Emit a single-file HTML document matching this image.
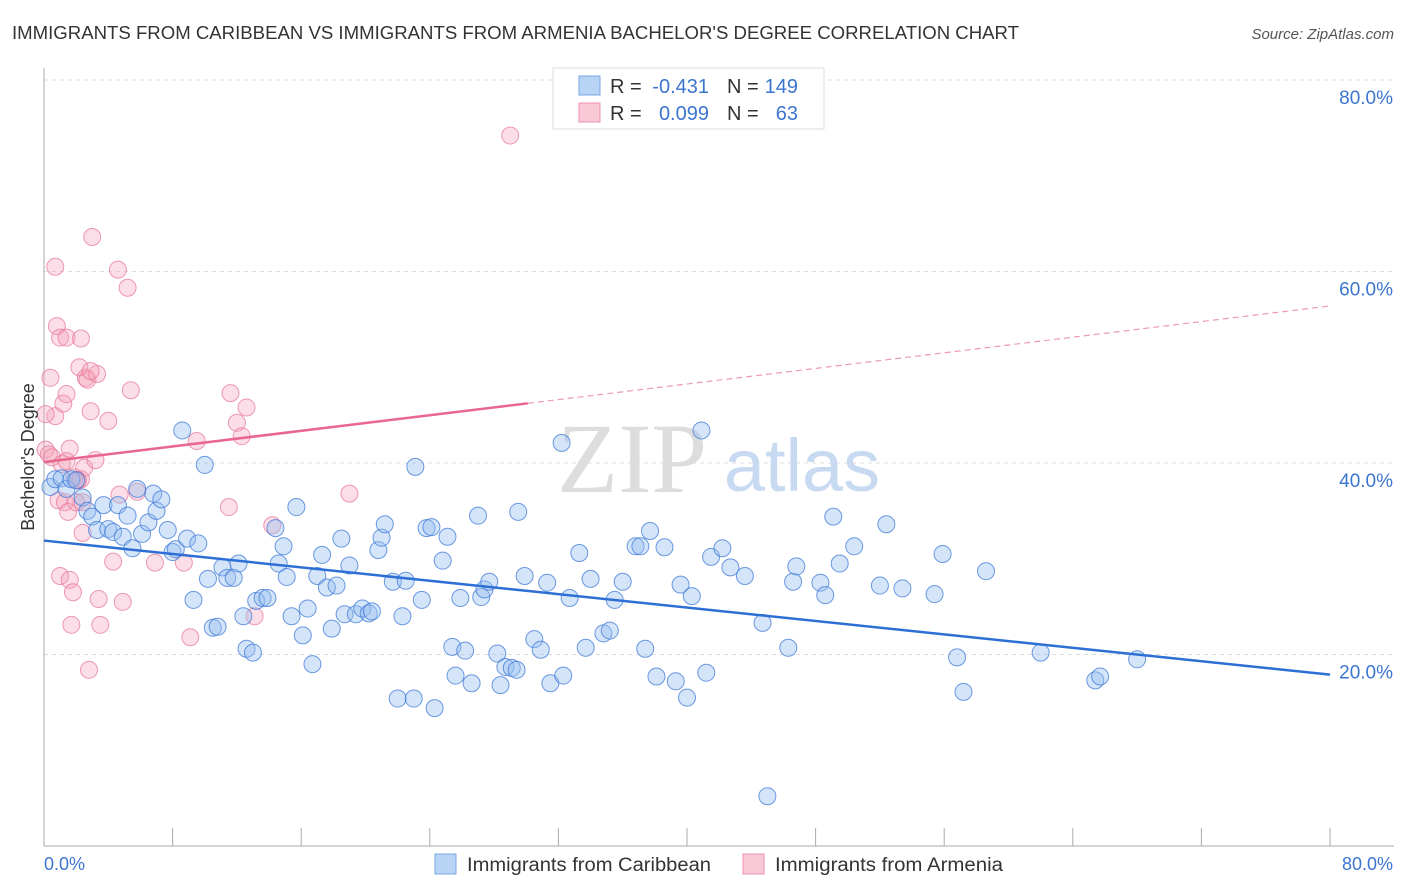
<!DOCTYPE html>
<html><head><meta charset="utf-8"><style>
body{margin:0;background:#fff;font-family:"Liberation Sans",sans-serif;}
svg{display:block}
</style></head><body>
<svg id="c" width="1406" height="892" xmlns="http://www.w3.org/2000/svg">
<text x="12" y="39" font-size="18" fill="#333" textLength="1007" lengthAdjust="spacingAndGlyphs">IMMIGRANTS FROM CARIBBEAN VS IMMIGRANTS FROM ARMENIA BACHELOR'S DEGREE CORRELATION CHART</text>
<text x="1394" y="39" font-size="15" fill="#555" font-style="italic" text-anchor="end">Source: ZipAtlas.com</text>
<g id="grid"></g>
<text x="632" y="492" font-size="100" fill="#ddd" font-family="Liberation Serif,serif" text-anchor="middle">ZIP</text>
<text x="802" y="491" font-size="74" fill="#c8daf2" text-anchor="middle">atlas</text>
<g id="pts"></g>
<g id="lines"></g>
<text transform="translate(34,457) rotate(-90)" font-size="18" fill="#333" text-anchor="middle">Bachelor's Degree</text>
<g>
<rect x="553" y="68" width="271" height="61" fill="#fff" stroke="#ddd"/>
<rect x="579" y="76" width="21" height="19" fill="#b8d3f4" stroke="#7aa7e6"/>
<rect x="579" y="103" width="21" height="19" fill="#f9c9d7" stroke="#ec90ac"/>
<text x="610" y="93" font-size="20" fill="#333">R =</text>
<text x="709" y="93" font-size="20" fill="#3c75d0" text-anchor="end">-0.431</text>
<text x="727" y="93" font-size="20" fill="#333">N =</text>
<text x="798" y="93" font-size="20" fill="#3c75d0" text-anchor="end">149</text>
<text x="610" y="120" font-size="20" fill="#333">R =</text>
<text x="709" y="120" font-size="20" fill="#3c75d0" text-anchor="end">0.099</text>
<text x="727" y="120" font-size="20" fill="#333">N =</text>
<text x="798" y="120" font-size="20" fill="#3c75d0" text-anchor="end">63</text>
</g>
<g>
<rect x="435" y="854" width="21" height="20" fill="#b8d3f4" stroke="#7aa7e6"/>
<text x="467" y="871" font-size="19" fill="#333" textLength="244" lengthAdjust="spacingAndGlyphs">Immigrants from Caribbean</text>
<rect x="743" y="854" width="21" height="20" fill="#f9c9d7" stroke="#ec90ac"/>
<text x="775" y="871" font-size="19" fill="#333" textLength="228" lengthAdjust="spacingAndGlyphs">Immigrants from Armenia</text>
</g>
</svg>
<script>
const yTicks=[20,40,60,80];
const xTickLabels=["0.0%","80.0%"];
const blueX=[0.4,0.7,1.1,1.4,1.7,2.0,2.4,2.7,3.0,3.3,3.7,4.0,4.3,4.6,4.9,5.2,5.5,5.8,6.1,6.5,6.8,7.0,7.3,7.7,8.0,8.2,8.6,8.9,9.3,9.6,10.0,10.2,10.5,10.8,11.1,11.4,11.8,12.1,12.4,12.6,13.0,13.2,13.6,13.9,14.4,14.6,14.9,15.1,15.4,15.7,16.1,16.4,16.7,17.0,17.3,17.6,17.9,18.2,18.5,18.7,19.0,19.4,19.8,20.2,20.4,20.8,21.0,21.2,21.7,22.0,22.3,22.5,23.0,23.1,23.5,23.8,24.1,24.3,24.8,25.1,25.4,25.6,25.9,26.2,26.6,27.0,27.2,27.4,27.7,28.2,28.4,28.7,29.1,29.4,29.5,29.9,30.5,30.9,31.3,31.5,32.2,32.3,32.7,33.3,33.7,34.0,34.8,35.2,35.5,36.0,36.8,37.1,37.4,37.7,38.1,38.6,39.3,39.6,40.0,40.3,40.9,41.2,41.5,42.2,42.7,43.6,44.7,45.0,46.3,46.6,46.8,48.3,48.6,49.1,49.5,50.4,52.0,52.4,53.4,55.4,55.9,56.8,57.2,58.6,62.0,65.4,65.7,68.0];
const blueY=[37.5,38.3,38.4,37.3,38.3,38.2,36.4,35.0,34.4,33.0,35.6,33.1,32.8,35.6,32.3,34.5,31.1,37.3,32.6,33.8,36.8,35.0,36.2,33.0,30.7,31.0,43.4,32.1,25.7,31.6,39.8,27.9,22.8,22.9,29.1,28.0,28.0,29.5,24.0,20.6,20.2,25.6,25.9,25.9,33.2,29.5,31.3,28.1,24.0,35.4,22.0,24.8,19.0,28.2,30.4,27.0,22.7,27.2,32.1,24.2,29.3,24.2,24.8,24.3,24.5,30.9,32.2,33.6,27.6,15.4,24.0,27.7,15.4,39.6,25.7,33.2,33.3,14.4,29.8,32.3,20.8,17.8,25.9,20.4,17.0,34.5,26.0,26.8,27.6,20.1,16.8,18.7,18.6,18.4,34.9,28.2,21.6,20.5,27.5,17.0,42.1,17.8,25.9,30.6,20.7,27.9,22.2,22.5,25.7,27.6,31.3,31.3,20.6,32.9,17.7,31.2,17.2,27.3,15.5,26.1,43.4,18.1,30.2,31.1,29.1,28.2,23.3,5.2,20.7,27.6,29.2,27.5,26.2,34.4,29.5,31.3,27.2,33.6,26.9,26.3,30.5,19.7,16.1,28.7,20.2,17.3,17.7,19.5];
const pinkX=[0.1,0.3,0.4,0.5,0.7,0.7,0.8,0.9,1.0,1.0,1.1,1.2,1.3,1.4,1.4,1.5,1.6,1.6,1.7,1.8,1.9,2.0,2.1,2.2,2.3,2.3,2.4,2.4,2.5,2.6,2.7,2.8,2.9,3.0,3.3,3.4,3.5,4.0,4.3,4.6,4.7,4.9,5.2,5.4,5.8,6.9,8.7,9.1,9.5,11.5,11.6,12.0,12.3,12.6,13.1,14.2,19.0,29.0,2.9,1.4,2.1,0.1,3.2];
const pinkY=[41.4,40.9,48.9,40.6,60.5,44.9,54.3,36.1,28.2,53.1,39.9,46.2,35.9,53.1,47.2,34.9,27.8,41.5,23.1,26.5,38.5,35.9,38.2,50.0,53.0,38.3,32.7,35.9,39.5,48.9,48.7,18.4,45.4,63.6,49.3,25.8,23.1,44.4,29.7,60.2,36.7,25.5,58.3,47.6,37.0,29.6,29.6,21.8,42.3,35.4,47.3,44.2,42.8,45.8,24.0,33.5,36.8,74.2,49.6,40.2,38.2,45.1,40.3];
const blueFit=[31.9,17.9];
const pinkFit=[40.1,56.4];
const pinkSolidEnd=30.1;
const X0=44,X1=1330,Y0=846,Y80=80;
const sx=v=>X0+(X1-X0)*v/80;
const sy=v=>Y0-(Y0-Y80)*v/80;
const NS="http://www.w3.org/2000/svg";
function mk(tag,attrs,parent){const e=document.createElementNS(NS,tag);for(const k in attrs)e.setAttribute(k,attrs[k]);parent.appendChild(e);return e;}
const grid=document.getElementById('grid');
yTicks.forEach(t=>{
 const l=mk('line',{x1:X0,x2:1394,y1:sy(t),y2:sy(t),stroke:'#ddd','stroke-dasharray':'4,4'},grid);
 
 
 const tx=mk('text',{x:1393,y:sy(t)+24,'font-size':19,fill:'#3c75d0','text-anchor':'end'},grid);
 tx.textContent=t.toFixed(1)+'%';
 
 
});
const ax=mk('line',{x1:X0,x2:X0,y1:68,y2:846,stroke:'#aaa'},grid);


const bx=mk('line',{x1:X0,x2:1394,y1:846,y2:846,stroke:'#aaa'},grid);


for(let i=0;i<=10;i++){const t=mk('line',{x1:sx(i*8),x2:sx(i*8),y1:828,y2:846,stroke:'#aaa'},grid);
 
 }
const xl0=mk('text',{x:44,y:870,'font-size':18,fill:'#3c75d0'},grid);xl0.textContent=xTickLabels[0];


const xl1=mk('text',{x:1393,y:870,'font-size':18,fill:'#3c75d0','text-anchor':'end'},grid);xl1.textContent=xTickLabels[1];


const pts=document.getElementById('pts');
pinkX.forEach((x,i)=>{const c=mk('circle',{cx:sx(x),cy:sy(pinkY[i]),r:8.5,fill:'rgba(244,160,185,0.35)',stroke:'rgba(232,120,155,0.75)','stroke-width':1},pts);
 
 });
blueX.forEach((x,i)=>{const c=mk('circle',{cx:sx(x),cy:sy(blueY[i]),r:8.5,fill:'rgba(150,190,240,0.4)',stroke:'rgba(60,120,215,0.75)','stroke-width':1},pts);
 
 });
const lines=document.getElementById('lines');
const bl=mk('line',{x1:sx(0),y1:sy(blueFit[0]),x2:sx(80),y2:sy(blueFit[1]),stroke:'#2e6fd6','stroke-width':2.5},lines);


const pAt=x=>pinkFit[0]+(pinkFit[1]-pinkFit[0])*x/80;
const pl=mk('line',{x1:sx(0),y1:sy(pinkFit[0]),x2:sx(pinkSolidEnd),y2:sy(pAt(pinkSolidEnd)),stroke:'#e8668f','stroke-width':2.5},lines);


const pd=mk('line',{x1:sx(pinkSolidEnd),y1:sy(pAt(pinkSolidEnd)),x2:sx(80),y2:sy(pinkFit[1]),stroke:'#ec9ab3','stroke-width':1.2,'stroke-dasharray':'6,4'},lines);


</script>
</body></html>
